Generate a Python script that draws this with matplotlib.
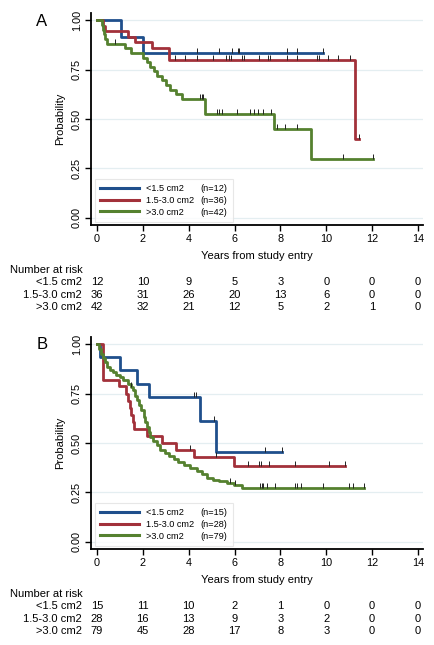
import matplotlib
matplotlib.use("Agg")
import matplotlib.pyplot as plt
import matplotlib.transforms as mtransforms
from matplotlib.lines import Line2D
import numpy as np

plt.rcParams['font.family'] = ['Liberation Sans', 'DejaVu Sans']

GROUPS = ["<1.5 cm2", "1.5-3.0 cm2", ">3.0 cm2"]
COLORS = ["#1f4f8c", "#a2313a", "#55812f"]
RISK_TIMES = [0, 2, 4, 6, 8, 10, 12, 14]

# ---- panel A ----
a_n = [12, 36, 42]
a_blue_t = [1.03, 2.02]
a_blue_s = [0.917, 0.833]
a_blue_end = 9.84
a_blue_cens = [4.37, 5.33, 5.87, 6.14, 6.21, 8.3, 8.74, 9.84]

a_red_t = [0.25, 0.33, 1.37, 1.66, 2.38, 3.16, 11.27]
a_red_s = [0.972, 0.944, 0.917, 0.889, 0.861, 0.80, 0.40]
a_red_end = 11.44
a_red_cens = [3.40, 3.84, 4.35, 5.05, 5.62, 5.77, 5.84, 6.31, 6.42, 7.08, 7.47,
              7.54, 8.3, 8.71, 9.58, 9.67, 10.09, 10.52, 11.03, 11.44]

a_green_t = [0.22, 0.25, 0.30, 0.35, 0.42, 1.22, 1.50, 2.02, 2.17, 2.31, 2.49,
             2.63, 2.82, 3.01, 3.18, 3.44, 3.73, 4.71, 7.72, 9.32]
a_green_s = [0.976, 0.952, 0.929, 0.905, 0.881, 0.857, 0.833, 0.81, 0.787, 0.764,
             0.741, 0.718, 0.695, 0.672, 0.649, 0.625, 0.60, 0.523, 0.447, 0.298]
a_green_end = 12.05
a_green_cens = [0.78, 4.5, 4.57, 4.64, 5.25, 5.33, 5.45, 6.09, 6.67, 6.86, 7.03,
                7.25, 7.59, 7.84, 8.2, 8.71, 10.71, 12.05]

a_risk = [[12, 10, 9, 5, 3, 0, 0, 0],
          [36, 31, 26, 20, 13, 6, 0, 0],
          [42, 32, 21, 12, 5, 2, 1, 0]]

# ---- panel B ----
b_n = [15, 28, 79]
b_blue_t = [0.13, 1.0, 1.74, 2.25, 4.51, 5.19]
b_blue_s = [0.933, 0.867, 0.80, 0.733, 0.611, 0.452]
b_blue_end = 8.06
b_blue_cens = [4.22, 4.33, 5.1, 7.31, 8.06]

b_red_t = [0.25, 0.95, 1.27, 1.35, 1.42, 1.48, 1.55, 1.62, 2.17, 2.83, 3.45, 4.22, 5.97]
b_red_s = [0.821, 0.786, 0.75, 0.714, 0.679, 0.643, 0.607, 0.571, 0.535, 0.50,
           0.464, 0.428, 0.382]
b_red_end = 10.8
b_red_cens = [4.07, 5.21, 6.6, 7.07, 7.14, 7.5, 8.64, 10.1, 10.8]

b_green_t = [0.10, 0.18, 0.25, 0.33, 0.42, 0.55, 0.71, 0.85, 1.00, 1.15, 1.37, 1.50,
             1.59, 1.66, 1.74, 1.82, 1.90, 2.03, 2.10, 2.18, 2.25, 2.32, 2.45, 2.60,
             2.76, 2.95, 3.15, 3.34, 3.55, 3.80, 4.05, 4.35, 4.60, 4.80, 5.05, 5.31,
             5.68, 5.97, 6.33]
b_green_s = [0.975, 0.95, 0.93, 0.91, 0.885, 0.87, 0.859, 0.846, 0.834, 0.82, 0.80,
             0.785, 0.766, 0.74, 0.715, 0.69, 0.665, 0.63, 0.605, 0.58, 0.555, 0.53,
             0.51, 0.49, 0.465, 0.45, 0.435, 0.42, 0.405, 0.39, 0.375, 0.36, 0.345,
             0.325, 0.315, 0.31, 0.30, 0.29, 0.27]
b_green_end = 11.66
b_green_cens = [1.5, 5.79, 6.01, 7.11, 7.18, 7.25, 7.43, 7.75, 8.64, 8.74, 8.89,
                9.88, 11.0, 11.15, 11.66]

b_risk = [[15, 11, 10, 2, 1, 0, 0, 0],
          [28, 16, 13, 9, 3, 2, 0, 0],
          [79, 45, 28, 17, 8, 3, 0, 0]]

W, H = 434, 645
fig = plt.figure(figsize=(W / 100, H / 100), dpi=100)


def km_curve(ax, times, surv, end, cens, color, label):
    t = np.array([0.0] + list(times) + [end])
    s = np.array([1.0] + list(surv) + [surv[-1]])
    ax.step(t, s, where="post", color=color, lw=2.0, label=label, zorder=3)
    idx = np.searchsorted(t, np.array(cens), side="right") - 1
    ax.plot(cens, s[idx], ls="none", marker=[(0, 0), (0, 1)], ms=7,
            mec="#222222", mew=0.7, zorder=4)


def panel(top_px, curves, ns, risk, letter):
    bottom_px = top_px + 212
    ax = fig.add_axes([91 / W, 1 - bottom_px / H, 332 / W, 212 / H])
    for (t, s, e, c), col, g, n in zip(curves, COLORS, GROUPS, ns):
        km_curve(ax, t, s, e, c, col, g)
    ax.set_xlim(-0.26, 14.22)
    ax.set_ylim(-0.036, 1.036)
    ax.set_xticks(range(0, 15, 2))
    ax.set_yticks([0, 0.25, 0.5, 0.75, 1.0])
    ax.set_yticklabels(["0.00", "0.25", "0.50", "0.75", "1.00"], rotation=90,
                       va="center")
    ax.tick_params(labelsize=7.8, length=4, width=1, pad=2.5)
    ax.grid(axis="y", color="#e4eef1", lw=0.9)
    ax.set_axisbelow(True)
    for sp in ["top", "right"]:
        ax.spines[sp].set_visible(False)
    for sp in ["left", "bottom"]:
        ax.spines[sp].set_linewidth(1.3)
    ax.set_ylabel("Probability", fontsize=8, labelpad=5)
    ax.set_xlabel("Years from study entry", fontsize=8, labelpad=5)

    # legend: names in first column, n= in second column
    handles = [Line2D([], [], color=c, lw=2.2) for c in COLORS]
    blanks = [Line2D([], [], color="none") for _ in COLORS]
    labels = GROUPS + ["(n=%d)" % n for n in ns]
    leg = ax.legend(handles + blanks, labels, ncol=2, loc="lower left",
                    bbox_to_anchor=(0.012, 0.014), borderaxespad=0,
                    fontsize=6.6, handlelength=4.2, handletextpad=0.8,
                    columnspacing=-4.3, labelspacing=0.3, frameon=True,
                    fancybox=False, edgecolor="#e2e2e2", borderpad=0.6)
    leg.get_frame().set_linewidth(0.8)

    fig.text(42 / W, 1 - (top_px + 8) / H, letter, fontsize=12, ha="center",
             va="center")

    # risk table
    trans = mtransforms.blended_transform_factory(ax.transData, fig.transFigure)
    fig.text(10 / W, 1 - (bottom_px + 45) / H, "Number at risk", fontsize=8,
             va="center")
    for i, (g, row) in enumerate(zip(GROUPS, risk)):
        y = 1 - (bottom_px + 57 + 12.7 * i) / H
        fig.text(82 / W, y, g, fontsize=8, ha="right", va="center")
        for x, v in zip(RISK_TIMES, row):
            ax.text(x, y, str(v), transform=trans, fontsize=8, ha="center",
                    va="center")
    return ax


panel(13, [(a_blue_t, a_blue_s, a_blue_end, a_blue_cens),
           (a_red_t, a_red_s, a_red_end, a_red_cens),
           (a_green_t, a_green_s, a_green_end, a_green_cens)], a_n, a_risk, "A")
panel(337, [(b_blue_t, b_blue_s, b_blue_end, b_blue_cens),
            (b_red_t, b_red_s, b_red_end, b_red_cens),
            (b_green_t, b_green_s, b_green_end, b_green_cens)], b_n, b_risk, "B")

fig.savefig("out.png", dpi=100)
